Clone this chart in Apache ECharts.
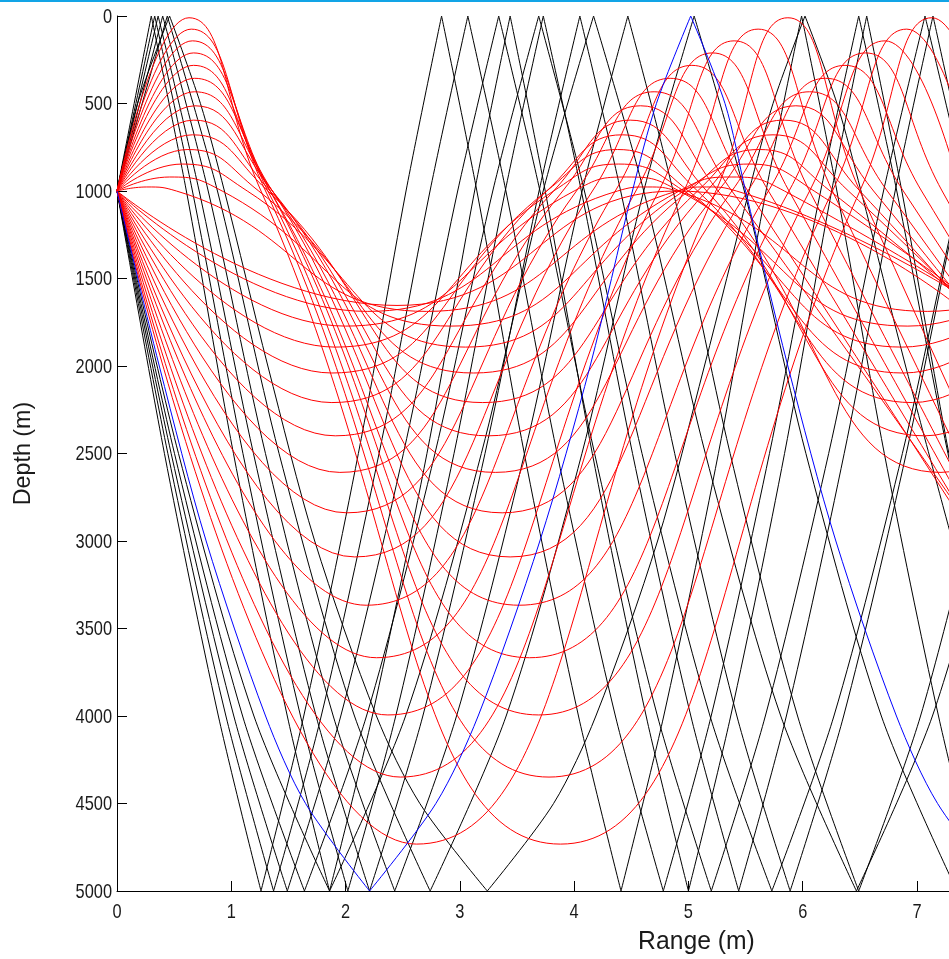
<!DOCTYPE html>
<html>
<head>
<meta charset="utf-8">
<script src="https://cdn.jsdelivr.net/npm/echarts@6/dist/echarts.min.js"></script>
<style>html,body{margin:0;padding:0;background:#fff}#c{width:949px;height:959px}</style>
</head>
<body>
<div id="c"></div>
<script>
// ---- axis ticks and titles ----
const xTicks = [0, 1, 2, 3, 4, 5, 6, 7];
const yTicks = [0, 500, 1000, 1500, 2000, 2500, 3000, 3500, 4000, 4500, 5000];
const xMax = 7.28;
const seaSurface = 0;
const seaBottom = 5000;
const xTitle = 'Range (m)';
const yTitle = 'Depth (m)';

// ---- red rays (refracted, never touch boundaries): [range, depth] key points ----
const red00   = [[0,1000],[2.45,1654],[4.90,1000],[7.35,1654]];
const redUp01 = [[0,1000],[0.26,977],[0.52,1000],[2.71,1688],[4.90,1000],[5.16,977],[5.42,1000],[7.61,1688]];
const redDn01 = [[0,1000],[2.19,1688],[4.38,1000],[4.64,977],[4.90,1000],[7.09,1688],[9.28,1000]];
const redUp02 = [[0,1000],[0.46,920],[0.92,1000],[2.92,1772],[4.92,1000],[5.38,920],[5.84,1000],[7.84,1772]];
const redDn02 = [[0,1000],[2.00,1772],[4.00,1000],[4.46,920],[4.92,1000],[6.92,1772],[8.92,1000]];
const redUp03 = [[0,1000],[0.57,846],[1.14,1000],[3.05,1892],[4.96,1000],[5.53,846],[6.10,1000],[8.01,1892]];
const redDn03 = [[0,1000],[1.91,1892],[3.82,1000],[4.39,846],[4.96,1000],[6.87,1892],[8.78,1000]];
const redUp04 = [[0,1000],[0.62,763],[1.24,1000],[3.12,2040],[5.00,1000],[5.62,763],[6.24,1000],[8.12,2040]];
const redDn04 = [[0,1000],[1.88,2040],[3.76,1000],[4.38,763],[5.00,1000],[6.88,2040],[8.76,1000]];
const redUp05 = [[0,1000],[0.66,679],[1.32,1000],[3.20,2209],[5.08,1000],[5.74,679],[6.40,1000],[8.28,2209]];
const redDn05 = [[0,1000],[1.88,2209],[3.76,1000],[4.42,679],[5.08,1000],[6.96,2209],[8.84,1000]];
const redUp06 = [[0,1000],[0.67,595],[1.34,1000],[3.25,2399],[5.16,1000],[5.83,595],[6.50,1000],[8.41,2399]];
const redDn06 = [[0,1000],[1.91,2399],[3.82,1000],[4.49,595],[5.16,1000],[7.07,2399],[8.98,1000]];
const redUp07 = [[0,1000],[0.68,513],[1.36,1000],[3.31,2608],[5.26,1000],[5.94,513],[6.62,1000],[8.57,2608]];
const redDn07 = [[0,1000],[1.95,2608],[3.90,1000],[4.58,513],[5.26,1000],[7.21,2608],[9.16,1000]];
const redUp08 = [[0,1000],[0.68,433],[1.36,1000],[3.37,2839],[5.38,1000],[6.06,433],[6.74,1000],[8.75,2839]];
const redDn08 = [[0,1000],[2.01,2839],[4.02,1000],[4.70,433],[5.38,1000],[7.39,2839]];
const redUp09 = [[0,1000],[0.68,356],[1.36,1000],[3.44,3091],[5.52,1000],[6.20,356],[6.88,1000],[8.96,3091]];
const redDn09 = [[0,1000],[2.08,3091],[4.16,1000],[4.84,356],[5.52,1000],[7.60,3091]];
const redUp10 = [[0,1000],[0.67,282],[1.34,1000],[3.52,3367],[5.70,1000],[6.37,282],[7.04,1000],[9.22,3367]];
const redDn10 = [[0,1000],[2.18,3367],[4.36,1000],[5.03,282],[5.70,1000],[7.88,3367]];
const redUp11 = [[0,1000],[0.67,211],[1.34,1000],[3.61,3667],[5.88,1000],[6.55,211],[7.22,1000],[9.49,3667]];
const redDn11 = [[0,1000],[2.27,3667],[4.54,1000],[5.21,211],[5.88,1000],[8.15,3667]];
const redUp12 = [[0,1000],[0.66,142],[1.32,1000],[3.69,3994],[6.06,1000],[6.72,142],[7.38,1000]];
const redDn12 = [[0,1000],[2.37,3994],[4.74,1000],[5.40,142],[6.06,1000],[8.43,3994]];
const redUp13 = [[0,1000],[0.65,75],[1.30,1000],[3.78,4349],[6.26,1000],[6.91,75],[7.56,1000]];
const redDn13 = [[0,1000],[2.48,4349],[4.96,1000],[5.61,75],[6.26,1000],[8.74,4349]];
const redUp14 = [[0,1000],[0.63,10],[1.26,1000],[3.88,4732],[6.50,1000],[7.13,10],[7.76,1000]];
const redDn14 = [[0,1000],[2.62,4732],[5.24,1000],[5.87,10],[6.50,1000],[9.12,4732]];

// ---- black rays (surface and bottom reflected) ----
const blackDn20 = [[0,1000],[0.415,2500],[0.887,4000],[1.26,5000],[1.634,4000],[2.112,2500],[2.529,1000],[2.84,0],[3.149,1000],[3.564,2500],[4.038,4000],[4.41,5000],[4.784,4000],[5.262,2500],[5.679,1000],[5.99,0],[6.299,1000],[6.714,2500],[7.188,4000],[7.56,5000]];
const blackUp20 = [[0,1000],[0.30,0],[0.607,1000],[1.019,2500],[1.49,4000],[1.86,5000],[2.234,4000],[2.712,2500],[3.129,1000],[3.44,0],[3.747,1000],[4.159,2500],[4.63,4000],[5.0,5000],[5.37,4000],[5.841,2500],[6.253,1000],[6.56,0],[6.867,1000],[7.279,2500],[7.75,4000]];
const blackDn19 = [[0,1000],[0.445,2500],[0.953,4000],[1.37,5000],[1.787,4000],[2.293,2500],[2.739,1000],[3.07,0],[3.403,1000],[3.851,2500],[4.361,4000],[4.78,5000],[5.199,4000],[5.709,2500],[6.157,1000],[6.49,0],[6.823,1000],[7.271,2500],[7.781,4000]];
const blackUp19 = [[0,1000],[0.33,0],[0.66,1000],[1.102,2500],[1.606,4000],[2.02,5000],[2.439,4000],[2.949,2500],[3.397,1000],[3.73,0],[4.063,1000],[4.511,2500],[5.021,4000],[5.44,5000],[5.857,4000],[6.363,2500],[6.809,1000],[7.14,0],[7.47,1000],[7.92,2500]];
const blackDn18 = [[0,1000],[0.474,2500],[1.022,4000],[1.49,5000],[1.958,4000],[2.506,2500],[2.981,1000],[3.34,0],[3.701,1000],[4.179,2500],[4.729,4000],[5.2,5000],[5.673,4000],[6.227,2500],[6.707,1000],[7.07,0],[7.43,1000],[7.91,2500]];
const blackUp18 = [[0,1000],[0.36,0],[0.719,1000],[1.194,2500],[1.742,4000],[2.21,5000],[2.676,4000],[3.22,2500],[3.693,1000],[4.05,0],[4.407,1000],[4.88,2500],[5.424,4000],[5.89,5000],[6.358,4000],[6.906,2500],[7.381,1000],[7.74,0]];
const blackDn17 = [[0,1000],[0.503,2500],[1.099,4000],[1.64,5000],[2.183,4000],[2.782,2500],[3.288,1000],[3.69,0],[4.09,1000],[4.594,2500],[5.189,4000],[5.73,5000],[6.273,4000],[6.872,2500],[7.378,1000],[7.78,0]];
const blackUp17 = [[0,1000],[0.40,0],[0.798,1000],[1.299,2500],[1.892,4000],[2.43,5000],[2.971,4000],[3.566,2500],[4.07,1000],[4.47,0],[4.866,1000],[5.365,2500],[5.955,4000],[6.49,5000],[7.031,4000],[7.626,2500]];
const blackDn16 = [[0,1000],[0.538,2500],[1.198,4000],[1.86,5000],[2.525,4000],[3.188,2500],[3.729,1000],[4.17,0],[4.609,1000],[5.148,2500],[5.808,4000],[6.47,5000],[7.135,4000],[7.798,2500]];
const blackUp16 = [[0,1000],[0.44,0],[0.879,1000],[1.418,2500],[2.078,4000],[2.74,5000],[3.405,4000],[4.068,2500],[4.609,1000],[5.05,0],[5.489,1000],[6.028,2500],[6.688,4000],[7.35,5000]];
const blackUp15 = [[0,1000],[0.18,500],[0.46,0],[0.73,500],[0.94,1000],[1.32,2000],[1.73,3000],[2.27,4000],[2.65,4500],[3.24,5000],[3.82,4500],[4.19,4000],[4.73,3000],[5.14,2000],[5.53,1000],[5.74,500],[6.02,0],[6.30,500],[6.51,1000],[6.90,2000],[7.31,3000]];

// ---- blue ray ----
const blueDn15 = [[0,1000],[0.37,2000],[0.78,3000],[1.30,4000],[1.65,4500],[2.21,5000],[2.79,4500],[3.16,4000],[3.70,3000],[4.14,2000],[4.51,1000],[4.72,500],[5.02,0],[5.32,500],[5.50,1000],[5.87,2000],[6.29,3000],[6.82,4000],[7.18,4500],[7.76,5000]];

const redRays = [red00, redUp01, redDn01, redUp02, redDn02, redUp03, redDn03, redUp04, redDn04,
  redUp05, redDn05, redUp06, redDn06, redUp07, redDn07, redUp08, redDn08, redUp09, redDn09,
  redUp10, redDn10, redUp11, redDn11, redUp12, redDn12, redUp13, redDn13, redUp14, redDn14];
const blackRays = [blackDn20, blackUp20, blackDn19, blackUp19, blackDn18, blackUp18,
  blackDn17, blackUp17, blackDn16, blackUp16, blackUp15];
const blueRays = [blueDn15];

// split a reflected ray at its surface / bottom bounces so each leg is smoothed on its own
function legs(ray) {
  const out = [];
  let cur = [ray[0]];
  for (let i = 1; i < ray.length; i++) {
    cur.push(ray[i]);
    const d = ray[i][1];
    if ((d === seaSurface || d === seaBottom) && i < ray.length - 1) { out.push(cur); cur = [ray[i]]; }
  }
  out.push(cur);
  return out;
}

const series = [];
function addLine(data, color, smooth, z) {
  series.push({
    type: 'line', data: data, symbol: 'none', showSymbol: false, smooth: smooth,
    silent: true, animation: false, clip: true, z: z,
    lineStyle: { color: color, width: 1 },
    emphasis: { disabled: true }
  });
}
blackRays.forEach(function (r) { legs(r).forEach(function (l) { addLine(l, '#000000', 0.3, 2); }); });
redRays.forEach(function (r) { addLine(r, '#ff0000', 0.5, 3); });
blueRays.forEach(function (r) { legs(r).forEach(function (l) { addLine(l, '#0000ff', 0.3, 4); }); });

const FONT = "'Liberation Sans', Arial, sans-serif";
const TEXT_COLOR = '#1a1a1a';
const chart = echarts.init(document.getElementById('c'), null, { renderer: 'canvas' });
chart.setOption({
  animation: false,
  backgroundColor: '#ffffff',
  grid: { left: 117, top: 16, right: 0, bottom: 68, containLabel: false },
  xAxis: {
    type: 'value', min: 0, max: xMax, interval: 1,
    axisLine: { onZero: false, lineStyle: { color: '#000', width: 1 } },
    axisTick: { inside: true, length: 10, lineStyle: { color: '#000' } },
    axisLabel: { show: false },
    splitLine: { show: false }
  },
  yAxis: {
    type: 'value', inverse: true, min: seaSurface, max: seaBottom, interval: 500,
    axisLine: { onZero: false, lineStyle: { color: '#000', width: 1 } },
    axisTick: { inside: true, length: 10, lineStyle: { color: '#000' } },
    axisLabel: { show: false },
    splitLine: { show: false }
  },
  series: series
});

// Tick labels and titles as (horizontally condensed) text, placed through the axes' own scales
const labels = [
  { type: 'rect', left: 0, top: 0, shape: { width: 949, height: 2 }, style: { fill: '#12a4e6' }, silent: true }
];
yTicks.forEach(function (v) {
  const p = chart.convertToPixel({ gridIndex: 0 }, [0, v]);
  labels.push({ type: 'text', x: p[0] - 5, y: p[1] + 1, scaleX: 0.78, silent: true,
    style: { text: String(v), align: 'right', verticalAlign: 'middle', fontSize: 21, fontFamily: FONT, fill: TEXT_COLOR } });
});
xTicks.forEach(function (v) {
  const p = chart.convertToPixel({ gridIndex: 0 }, [v, seaBottom]);
  labels.push({ type: 'text', x: p[0], y: p[1] + 11, scaleX: 0.78, silent: true,
    style: { text: String(v), align: 'center', verticalAlign: 'top', fontSize: 21, fontFamily: FONT, fill: TEXT_COLOR } });
});
const xMid = chart.convertToPixel({ gridIndex: 0 }, [5.07, seaBottom]);
labels.push({ type: 'text', x: xMid[0], y: xMid[1] + 51, scaleX: 0.95, silent: true,
  style: { text: xTitle, align: 'center', verticalAlign: 'middle', fontSize: 26, fontFamily: FONT, fill: TEXT_COLOR } });
const yMid = chart.convertToPixel({ gridIndex: 0 }, [0, 2500]);
labels.push({ type: 'text', x: 23, y: yMid[1], rotation: Math.PI / 2, scaleX: 0.97, silent: true,
  style: { text: yTitle, align: 'center', verticalAlign: 'middle', fontSize: 24, fontFamily: FONT, fill: TEXT_COLOR } });
chart.setOption({ graphic: labels });
</script>
</body>
</html>
